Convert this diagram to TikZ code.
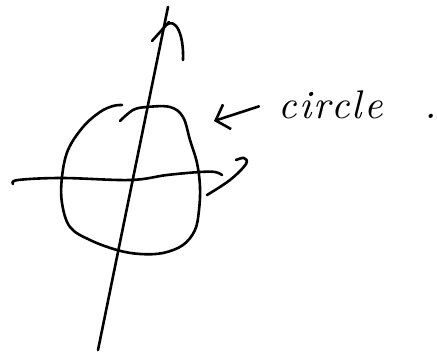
\documentclass[tikz,border=0pt]{standalone}
\usepackage{fontspec}
\usetikzlibrary{arrows.meta}
\newfontfamily\notefont{lmroman10-italic}[Extension=.otf, LetterSpace=6]

\begin{document}
\begin{tikzpicture}[x=1pt, y=-1pt, line width=2.6pt, line cap=round, line join=round]
\useasboundingbox (0,0) rectangle (437,356);
\coordinate (A) at (98,350);
\coordinate (B) at (168,7);
\coordinate (T) at (214,121);

\node[anchor=base west, inner sep=0pt, font=\fontsize{40}{40}\notefont] (L) at (277,118) {circle\hspace{42pt}.};

\draw (A) -- (B);
\draw (152,41) -- (169,22);
\draw (166,25) .. controls (176,17) and (184,35) .. (183,60);
\draw plot[smooth, tension=0.6] coordinates {(13,184) (18,180) (62,178) (130,180) (167,175) (200,172) (215,172) (222,175)};
\draw plot[smooth, tension=0.6] coordinates {(207,195) (230,180) (246,164) (244,158) (236,160)};
\draw plot[smooth, tension=0.6] coordinates {(120,121) (133,110) (147,107) (170,107) (183,117) (190,140) (197,163) (200,187) (199,210) (195,230) (183,245) (163,253) (140,254) (117,250) (90,240) (70,227) (62,203) (62,177) (68,150) (83,127) (100,112) (113,106) (122,105)};
\draw[-{Straight Barb[length=12pt,width=26pt]}] ([xshift=-18pt,yshift=-2pt]L.west) -- (T);
\end{tikzpicture}
\end{document}
